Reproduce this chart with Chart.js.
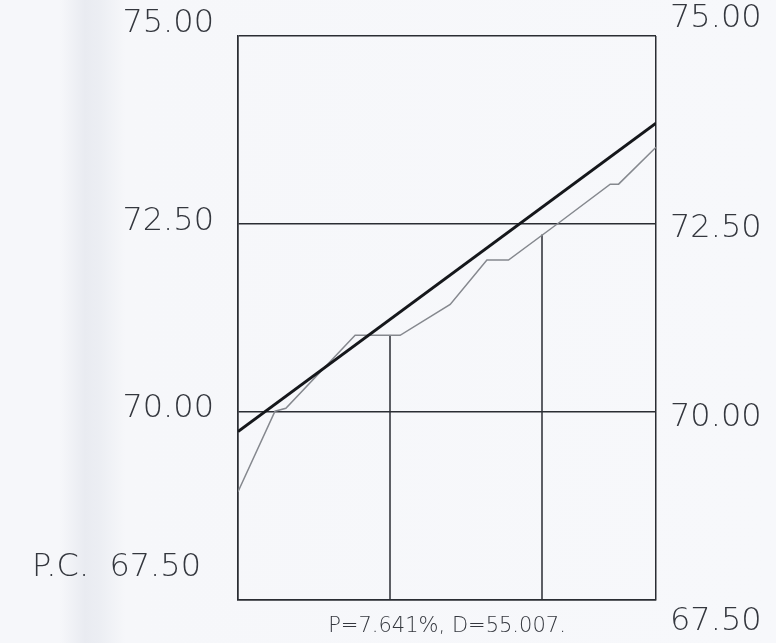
<!DOCTYPE html>
<html>
<head>
<meta charset="utf-8">
<script src="https://cdn.jsdelivr.net/npm/chart.js@4.4.1/dist/chart.umd.min.js"></script>
<style>
  html, body { margin: 0; padding: 0; }
  body {
    width: 776px; height: 643px; overflow: hidden;
    background: linear-gradient(to right, #f6f7fa 0px, #f6f7fa 60px, #e9ebf1 85px, #eceef3 100px, #f6f7fa 125px, #f7f8fb 776px);
  }
  #wrap { position: relative; width: 776px; height: 643px; }
</style>
</head>
<body>
<div id="wrap"><canvas id="profile" width="776" height="643"></canvas></div>
<script>
// profile data (distance along x, level along y)
const distances = [0, 4.87, 6.3, 15.41, 21.33, 27.92, 32.75, 35.59, 42.4, 48.98, 50.08, 55];
const groundLevels = [68.94, 70.01, 70.05, 71.02, 71.02, 71.43, 72.02, 72.02, 72.53, 73.03, 73.03, 73.52];

// grade line end points
const gradeDistances = [0, 55];
const gradeLevels = [69.74, 73.84];

// vertical drop lines from the base up to the ground
const dropDistances = [20, 40];
const dropTops = [71.02, 72.36];

// axis labels
const labelValues = [75, 72.5, 70, 67.5];
const leftLabels = ["75.00", "72.50", "70.00", "P.C.  67.50"];
const rightLabels = ["75.00", "72.50", "70.00", "67.50"];
const footerText = "P=7.641%, D=55.007.";

const yMin = 67.5;
const yMax = 75;
const xMax = 55;

const ground = distances.map((d, i) => ({ x: d, y: groundLevels[i] }));
const grade = gradeDistances.map((d, i) => ({ x: d, y: gradeLevels[i] }));

const dropSets = dropDistances.map((d, i) => ({
  data: [{ x: d, y: yMin }, { x: d, y: dropTops[i] }],
  borderColor: "#2a2d33",
  borderWidth: 1.5,
  pointRadius: 0,
  fill: false,
}));

// the label offsets are irregular in the drawing, so draw them by hand
const labelPlugin = {
  id: "sideLabels",
  afterDraw(chart) {
    const ctx = chart.ctx;
    const y = chart.scales.y;
    const area = chart.chartArea;
    const leftShift = [-12, -2, -3, -32];
    const leftX = [0, 0, 0, -13];
    const rightShift = [-17, 5, 6, 22];
    ctx.save();
    ctx.fillStyle = "#34373e";
    ctx.font = "200 32px 'DejaVu Sans'";
    ctx.textBaseline = "middle";
    labelValues.forEach((v, i) => {
      const py = y.getPixelForValue(v);
      ctx.textAlign = "right";
      ctx.fillText(leftLabels[i], area.left - 24 + leftX[i], py + leftShift[i]);
      ctx.textAlign = "left";
      ctx.fillText(rightLabels[i], area.right + 14, py + rightShift[i]);
    });
    ctx.font = "200 21px 'DejaVu Sans'";
    ctx.textAlign = "center";
    ctx.fillText(footerText, (area.left + area.right) / 2, area.bottom + 27);
    ctx.restore();
  },
};

const ctx = document.getElementById("profile");
new Chart(ctx, {
  type: "line",
  data: {
    datasets: [
      {
        data: grade,
        borderColor: "#15171b",
        borderWidth: 3,
        pointRadius: 0,
        fill: false,
      },
      {
        data: ground,
        borderColor: "#85888e",
        borderWidth: 1.5,
        pointRadius: 0,
        fill: false,
      },
      ...dropSets,
    ],
  },
  options: {
    responsive: false,
    animation: false,
    layout: { padding: { left: 238, right: 120, top: 36, bottom: 43 } },
    plugins: { legend: { display: false }, tooltip: { enabled: false } },
    scales: {
      x: {
        type: "linear",
        min: 0,
        max: xMax,
        ticks: { display: false, stepSize: xMax },
        grid: { color: "#2a2d33", lineWidth: 1.5, drawTicks: false },
        border: { display: true, color: "#2a2d33", width: 1.5 },
      },
      y: {
        min: yMin,
        max: yMax,
        ticks: { display: false, stepSize: 2.5 },
        grid: { color: "#2a2d33", lineWidth: 1.5, drawTicks: false },
        border: { display: true, color: "#2a2d33", width: 1.5 },
      },
    },
  },
  plugins: [labelPlugin],
});
</script>
</body>
</html>
